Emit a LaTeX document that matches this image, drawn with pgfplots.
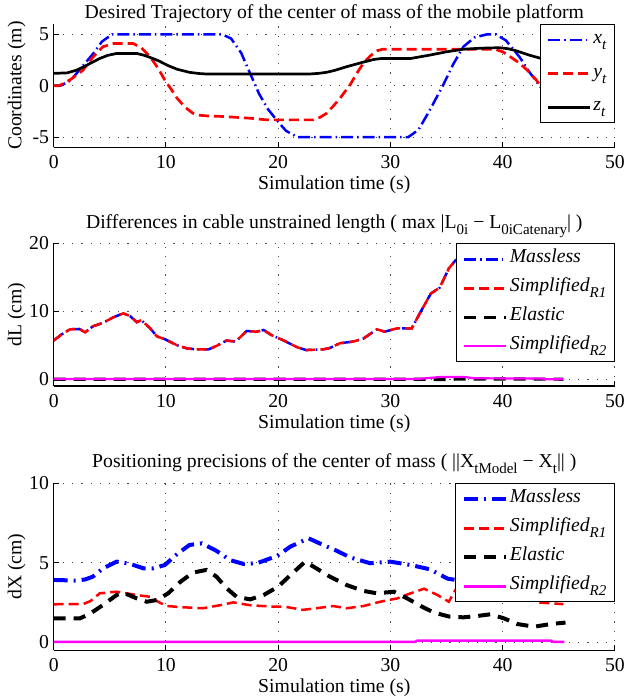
\documentclass[border=0pt]{standalone}
\usepackage{fontspec}
\setmainfont{Liberation Serif}
\usepackage{pgfplots}
\pgfplotsset{compat=1.18}
\definecolor{mblue}{rgb}{0,0,1}
\definecolor{mred}{rgb}{1,0,0}
\definecolor{mmag}{rgb}{1,0,1}
\newcommand{\fs}{\fontsize{19.7pt}{23pt}\selectfont}
\newcommand{\sub}[1]{\raisebox{-6pt}{\fontsize{15pt}{15pt}\selectfont #1}}
\pgfplotsset{
  myaxis/.style={
    scale only axis, width=561.2pt,
    xmin=0, xmax=50, xtick={0,10,20,30,40,50}, xticklabels={0,10,20,30,40,50},
    axis x line=bottom, axis y line=left, axis line style={-, black, line width=1.2pt},
    tick align=inside, major tick length=5pt, tick style={black, line width=1pt},
    grid=major, major grid style={black!70, line width=0.9pt, dash pattern=on 1.2pt off 8pt},
    tick label style={font=\fs},
    xticklabel style={anchor=base, yshift=-21pt},
    yticklabel style={anchor=east, xshift=2pt},
    label style={font=\fs},
    xlabel={Simulation time (s)},
    xlabel style={at={([yshift=-42pt]axis description cs:0.5,0)}, anchor=base},
    ylabel style={at={([xshift=-37pt]axis description cs:0,0.5)}, anchor=center},
    title style={font=\fs, at={(axis description cs:0.5,1)}, anchor=base},
    legend style={at={(1,1)}, anchor=north east, draw=black, line width=1.2pt, fill=white,
      font=\fs\itshape, nodes={text height=14pt, text depth=7pt, inner sep=2pt}, row sep=4pt,
      inner xsep=6pt, inner ysep=3pt},
    legend cell align=left,
    legend image code/.code={\draw[##1] (0pt,0pt) -- (42pt,0pt);},
  },
  dashdot/.style={dash pattern=on 12pt off 4pt on 1.5pt off 4pt},
  mdash/.style={dash pattern=on 10pt off 5pt},
}
\begin{document}
\fs
\begin{tikzpicture}
\useasboundingbox (0,0) rectangle (626pt,700pt);
% ---------------- top
\begin{axis}[myaxis, at={(53.7pt,552.7pt)}, anchor=south west, height=123.2pt,
  ymin=-6, ymax=6, ytick={-5,0,5}, yticklabels={-5,0,5},
  ylabel={Coordinates (m)},
  title={Desired Trajectory of the center of mass of the mobile platform},
  title style={yshift=-0.5pt},
  legend style={row sep=8.5pt}]
\addplot[mblue, line width=2.5pt, dashdot] coordinates {
(0,0) (0.6,0) (1.5,0.5) (2.5,1.8) (3.5,3.1) (4.3,4.3) (5.2,5) (15.0,5) (15.8,4.6) (16.7,3.2)
(17.5,1.2) (18.3,-0.8) (19.1,-2.3) (19.9,-3.4) (20.7,-4.4) (21.7,-5) (31.6,-5) (32.5,-4.3)
(33.5,-2.4) (34.7,0.07) (35.6,2.1) (36.5,3.8) (37.5,4.7) (38.6,5) (39.4,5) (40.3,4.4)
(41.5,2.8) (42.4,1.3) (43.3,0) (44.2,-1.4) (45.0,-2.6)};
\addlegendentry{x\sub{t}}
\addplot[mred, line width=2.7pt, mdash] coordinates {
(0,0) (0.5,0) (1.5,0.6) (2.6,1.5) (3.5,2.8) (4.4,3.8) (5.3,4.1) (7.1,4.1) (7.8,3.7) (8.6,2.8)
(9.3,1.7) (9.9,0.55) (10.5,-0.4) (11.0,-1.23) (11.7,-2.1) (12.4,-2.68) (13.0,-2.88) (13.6,-2.94)
(15.1,-3.0) (17.5,-3.17) (19.0,-3.33) (23.1,-3.33) (23.7,-3.1) (24.3,-2.7) (24.9,-2.0)
(25.5,-1.24) (26.0,-0.5) (26.4,0.07) (27.0,1.2) (27.6,2.2) (28.2,2.9) (28.8,3.4) (29.3,3.55)
(39.3,3.55) (40.0,3.3) (40.7,2.8) (41.5,2.2) (42.3,1.4) (43.0,0.55) (43.6,-0.4) (44.3,-1.4) (45.0,-2.2)};
\addlegendentry{y\sub{t}}
\addplot[black, line width=2.7pt] coordinates {
(0,1.2) (1.2,1.25) (2.0,1.5) (2.6,1.8) (3.3,2.2) (4.1,2.65) (4.8,2.95) (5.6,3.14) (7.4,3.14)
(8.0,2.98) (8.6,2.75) (9.4,2.4) (10.1,2.0) (11.0,1.6) (12.1,1.3) (13.0,1.18) (13.6,1.14)
(22.8,1.14) (23.6,1.2) (24.3,1.3) (25.0,1.48) (26.1,1.85) (27.6,2.3) (28.5,2.55) (29.2,2.65)
(31.8,2.65) (33.5,2.98) (35.0,3.3) (36.5,3.55) (38.0,3.65) (39.7,3.7) (40.5,3.6) (41.2,3.4)
(42.3,3.0) (43.6,2.6) (45.0,2.2)};
\addlegendentry{z\sub{t}}
\end{axis}
% ---------------- middle
\begin{axis}[myaxis, at={(53.7pt,313.9pt)}, anchor=south west, height=142.8pt,
  ymin=-1, ymax=20, ytick={0,10,20}, yticklabels={0,10,20},
  ylabel={dL (cm)},
  title={Differences in cable unstrained length ( max |L\sub{0i} − L\sub{0iCatenary}| )},
  title style={yshift=9pt}]
\addplot[mblue, line width=2.5pt, dashdot] coordinates {
(0,5.7) (0.7,6.6) (1.45,7.35) (2.3,7.4) (2.8,6.9) (3.5,7.8) (4.4,8.3) (5.3,9.1) (6.2,9.7)
(6.8,9.3) (7.4,8.4) (7.8,8.7) (8.6,7.5) (9.2,6.3) (9.9,5.9) (11.0,5.0) (11.85,4.55) (12.7,4.4)
(13.8,4.4) (14.5,4.9) (15.4,5.7) (16.2,5.55) (17.2,7.1) (18.1,7.0) (18.7,7.25) (19.4,6.5)
(20.5,5.7) (21.7,4.7) (22.5,4.3) (24.0,4.4) (24.6,4.6) (25.5,5.3) (26.7,5.55) (27.6,6.0)
(28.8,7.35) (29.5,7.0) (30.6,7.5) (31.9,7.5) (32.7,9.95) (33.6,12.6) (34.4,13.5) (35.2,16.3)
(35.8,17.5) (37.0,18.6) (38.5,19.0) (40.0,18.6) (42.0,17.8) (44.0,17.2) (45.5,16.8)};
\addlegendentry{Massless}
\addplot[mred, line width=2.5pt, mdash] coordinates {
(0,5.7) (0.7,6.6) (1.45,7.35) (2.3,7.4) (2.8,6.9) (3.5,7.8) (4.4,8.3) (5.3,9.1) (6.2,9.7)
(6.8,9.3) (7.4,8.4) (7.8,8.7) (8.6,7.5) (9.2,6.3) (9.9,5.9) (11.0,5.0) (11.85,4.55) (12.7,4.4)
(13.8,4.4) (14.5,4.9) (15.4,5.7) (16.2,5.55) (17.2,7.1) (18.1,7.0) (18.7,7.25) (19.4,6.5)
(20.5,5.7) (21.7,4.7) (22.5,4.3) (24.0,4.4) (24.6,4.6) (25.5,5.3) (26.7,5.55) (27.6,6.0)
(28.8,7.35) (29.5,7.0) (30.6,7.5) (31.9,7.5) (32.7,9.95) (33.6,12.6) (34.4,13.5) (35.2,16.3)
(35.8,17.5) (37.0,18.6) (38.5,19.0) (40.0,18.6) (42.0,17.8) (44.0,17.2) (45.5,16.8)};
\addlegendentry{Simplified\sub{R1}}
\addplot[black, line width=3.2pt, dash pattern=on 12pt off 8pt] coordinates {
(0,0.02) (33,0.02) (35,-0.05) (36,0.05) (45.4,0.02)};
\addlegendentry{Elastic}
\addplot[mmag, line width=2.2pt] coordinates {
(0,0.05) (32.5,0.05) (33.5,0.2) (34.5,0.35) (36.5,0.35) (37.5,0.15) (43.5,0.1) (44,0.0) (45.4,0.0)};
\addlegendentry{Simplified\sub{R2}}
\end{axis}
% ---------------- bottom
\begin{axis}[myaxis, at={(53.7pt,49.75pt)}, anchor=south west, height=167pt,
  ymin=-0.5, ymax=10, ytick={0,5,10}, yticklabels={0,5,10},
  ylabel={dX (cm)},
  title={Positioning precisions of the center of mass ( ||X\sub{tModel} − X\sub{t}|| )},
  title style={yshift=10pt}]
\addplot[mblue, line width=4pt, dash pattern=on 14pt off 6pt on 2pt off 6pt] coordinates {
(0,3.92) (2.05,3.88) (2.8,3.95) (3.5,4.13) (4.4,4.65) (5.6,5.07) (6.8,4.93) (8.0,4.65) (8.9,4.65)
(9.9,4.86) (11.0,5.55) (12.1,6.12) (13.2,6.22) (14.5,5.75) (15.7,5.17) (16.9,4.93) (18.1,4.97)
(19.9,5.43) (21.1,6.02) (22.7,6.54) (24.0,6.12) (25.2,5.76) (26.4,5.34) (28.2,4.97) (30.0,5.07)
(31.8,4.86) (33.5,4.59) (35.1,4.0) (36,3.9) (38,4.2) (40,4.4) (42,4.0) (44,3.8) (45.5,3.8)};
\addlegendentry{Massless}
\addplot[mred, line width=2.5pt, mdash] coordinates {
(0,2.39) (2.65,2.41) (3.3,2.6) (4.1,3.08) (5.6,3.18) (7.4,2.97) (8.6,2.86) (9.3,2.55) (10.07,2.28)
(11.55,2.2) (13.3,2.14) (14.8,2.33) (16.0,2.51) (17.5,2.33) (19.3,2.25) (20.5,2.25) (22.2,2.04)
(23.4,2.14) (24.9,2.28) (26.1,2.14) (27.6,2.28) (29.1,2.55) (30.6,2.76) (31.8,3.08) (33.0,3.37)
(34.2,2.97) (35.2,2.55) (35.8,3.29) (37,3.6) (39,3.5) (41,3.0) (43.3,2.5) (45.4,2.4)};
\addlegendentry{Simplified\sub{R1}}
\addplot[black, line width=4pt, dash pattern=on 12pt off 8pt] coordinates {
(0,1.51) (2.35,1.51) (3.2,1.78) (4.4,2.35) (5.6,2.97) (6.2,3.12) (7.4,2.76) (8.3,2.55) (9.2,2.66)
(10.2,3.08) (11.3,3.81) (12.4,4.38) (13.6,4.55) (14.5,4.13) (15.4,3.4) (16.3,2.86) (17.5,2.7)
(18.7,2.97) (20.0,3.5) (21.1,4.23) (22.4,5.07) (23.4,4.65) (24.6,4.13) (26.1,3.6) (27.6,3.23)
(28.8,3.08) (30.3,3.18) (31.5,2.76) (32.7,2.28) (33.9,1.86) (35.3,1.61) (36.5,1.57) (37.7,1.65)
(38.9,1.76) (40.1,1.51) (41.3,1.15) (42.8,0.98) (44.3,1.15) (45.6,1.24)};
\addlegendentry{Elastic}
\addplot[mmag, line width=2.5pt] coordinates {
(0,0.03) (32.2,0.03) (32.4,0.1) (44.3,0.1) (44.5,0.03) (45.5,0.03)};
\addlegendentry{Simplified\sub{R2}}
\end{axis}
\end{tikzpicture}
\end{document}
